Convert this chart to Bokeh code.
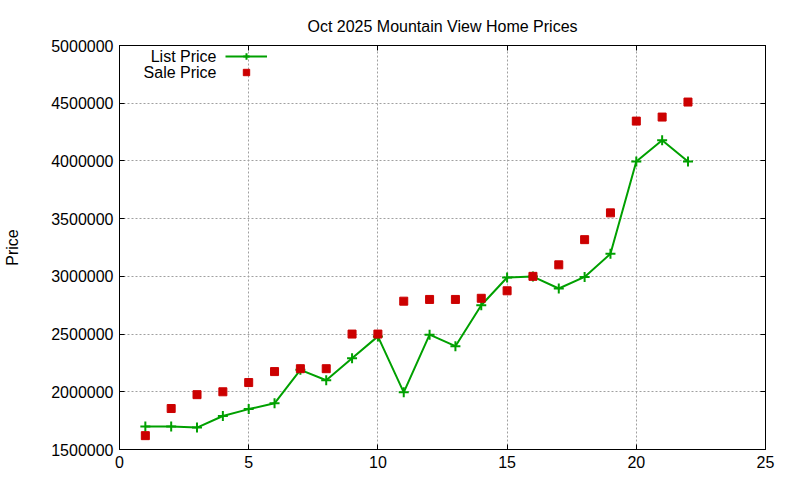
from bokeh.plotting import figure
from bokeh.models import (Range1d, FixedTicker, LinearAxis, Legend, LegendItem,
                          Label, NumeralTickFormatter)
from bokeh.embed import file_html
from bokeh.resources import INLINE

# donnees
listing = list(range(1, 23))
list_price = [1700000, 1700000, 1690000, 1790000, 1850000, 1900000, 2190000,
              2100000, 2290000, 2480000, 1995000, 2495000, 2395000, 2750000,
              2990000, 2998000, 2895000, 2995000, 3195000, 3995000, 4180000,
              3995000]
sale_price = [1620000, 1855000, 1975000, 2000000, 2080000, 2175000, 2200000,
              2200000, 2500000, 2500000, 2785000, 2800000, 2800000, 2810000,
              2875000, 3000000, 3100000, 3318000, 3550000, 4345000, 4380000,
              4510000]
x_ticks = [0, 5, 10, 15, 20, 25]
y_ticks = [1500000, 2000000, 2500000, 3000000, 3500000, 4000000, 4500000, 5000000]

FONT = "Liberation Sans"
GREEN = "#00a000"
RED = "#cc0000"

p = figure(width=792, height=472, output_backend="svg", toolbar_location=None,
           x_range=Range1d(0, 25), y_range=Range1d(1500000, 5000000),
           min_border_left=119, min_border_right=27, min_border_top=45,
           min_border_bottom=23)

p.title.text = "Oct 2025 Mountain View Home Prices"
p.title.align = "center"
p.title.text_font = FONT
p.title.text_font_size = "16px"
p.title.text_font_style = "normal"
p.title.text_color = "black"
p.title.standoff = 21

p.outline_line_color = "black"
p.outline_line_width = 1

# axes principaux
for ax, ticks in ((p.xaxis[0], x_ticks), (p.yaxis[0], y_ticks)):
    ax.ticker = FixedTicker(ticks=ticks)
    ax.formatter = NumeralTickFormatter(format="0")
    ax.major_label_text_font = FONT
    ax.major_label_text_font_size = "16px"
    ax.major_label_text_color = "black"
    ax.major_tick_in = 5
    ax.major_tick_out = 0
    ax.minor_tick_in = 0
    ax.minor_tick_out = 0
    ax.axis_line_color = "black"
    ax.major_tick_line_color = "black"
    ax.major_label_standoff = 6

p.yaxis.axis_label = "Price"
p.yaxis.axis_label_text_font = FONT
p.yaxis.axis_label_text_font_size = "16px"
p.yaxis.axis_label_text_font_style = "normal"
p.yaxis.axis_label_text_color = "black"
p.yaxis.axis_label_standoff = 27

# petites graduations en miroir (haut / droite), sans etiquettes
top = LinearAxis(ticker=FixedTicker(ticks=x_ticks), major_label_text_font_size="0px",
                 major_label_text_color=None,
                 major_tick_in=5, major_tick_out=0, minor_tick_in=0, minor_tick_out=0,
                 axis_line_color="black", major_tick_line_color="black")
right = LinearAxis(ticker=FixedTicker(ticks=y_ticks), major_label_text_font_size="0px",
                   major_label_text_color=None,
                   major_tick_in=5, major_tick_out=0, minor_tick_in=0, minor_tick_out=0,
                   axis_line_color="black", major_tick_line_color="black")
p.add_layout(top, "above")
p.add_layout(right, "right")

p.xgrid.ticker = FixedTicker(ticks=x_ticks)
p.ygrid.ticker = FixedTicker(ticks=y_ticks)
p.grid.grid_line_color = "#a0a0a0"
p.grid.grid_line_dash = "2 2"
p.grid.grid_line_width = 1

# series
l1 = p.line(listing, list_price, line_color=GREEN, line_width=2)
c1 = p.scatter(listing, list_price, marker="cross", size=10, line_color=GREEN, line_width=2)
s1 = p.scatter(listing, sale_price, marker="square", size=8, fill_color=RED, line_color=RED)

# legende facon gnuplot : texte a gauche du symbole
legend = Legend(items=[LegendItem(label=" ", renderers=[l1, c1]),
                       LegendItem(label=" ", renderers=[s1])],
                location=(106, 369), glyph_width=42, glyph_height=16, label_height=16,
                spacing=0, padding=0, margin=0, label_standoff=0, label_width=0,
                border_line_alpha=0, background_fill_alpha=0)
p.add_layout(legend)

for txt, yy in (("List Price", 393), ("Sale Price", 377)):
    p.add_layout(Label(x=97, y=yy, x_units="screen", y_units="screen", text=txt,
                       text_align="right", text_baseline="middle", text_font=FONT,
                       text_font_size="16px", text_color="black"))

open("out.html", "w").write(file_html(p, INLINE))
